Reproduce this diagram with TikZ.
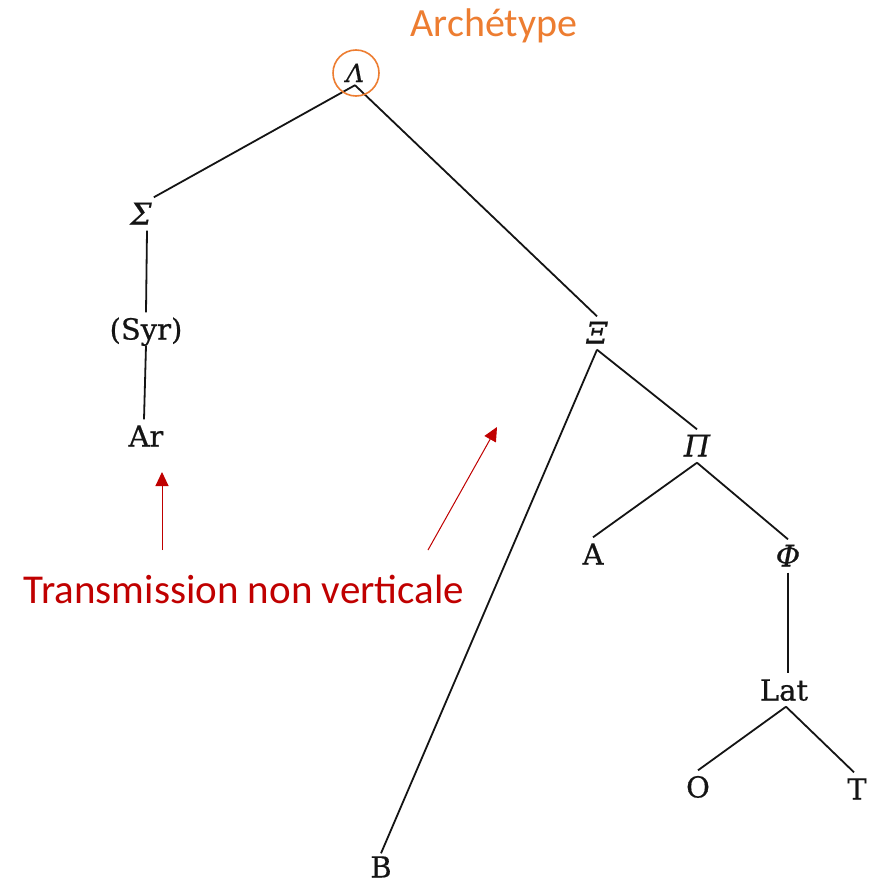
\documentclass[tikz,border=0pt]{standalone}
\usepackage{fontspec}
\newfontfamily\treefont{DejaVu Serif}[FakeBold=0.6]
\newfontfamily\calib{Carlito}
\usetikzlibrary{arrows.meta}
\definecolor{archc}{HTML}{ED7D31}
\definecolor{tnvc}{HTML}{C00000}
\begin{document}
\begin{tikzpicture}[x=1pt,y=1pt,
  lab/.style={font=\treefont\fontsize{29}{29}\selectfont, text height=21pt, text depth=0pt, inner xsep=2pt, inner ysep=6pt, text=black!92},
  gk/.style={lab, font=\treefont\itshape\fontsize{30}{30}\selectfont},
  edge/.style={line width=1.8pt, black!92},
  redarrow/.style={tnvc, line width=1pt, -{Triangle[width=13pt,length=14pt]}},
  note/.style={font=\calib\fontsize{40}{40}\selectfont, anchor=base, inner sep=0pt}]
\useasboundingbox (0,0) rectangle (875,-883);
\fill[white] (0,0) rectangle (875,-883);

% tree nodes
\node[gk, font=\treefont\itshape\fontsize{25}{25}\selectfont, text height=18pt, inner ysep=3pt] (L) at (355,-73) {Λ};
\node[gk] (S) at (141,-214) {Σ};
\node[lab] (Syr) at (146,-329) {(Syr)};
\node[lab] (Ar) at (146,-436) {Ar};
\node[gk] (X) at (597,-333) {Ξ};
\node[gk] (P) at (697,-446) {Π};
\node[lab] (A) at (593,-554) {A};
\node[gk] (F) at (788,-556) {Φ};
\node[lab] (Lat) at (784,-690) {Lat};
\node[lab] (O) at (698,-787) {O};
\node[lab] (T) at (857,-789) {T};
\node[lab, inner ysep=3pt] (B) at (381,-867) {B};

% tree edges
\draw[edge] (L.south) -- (S.north east);
\draw[edge] (L.south) -- (X.north);
\draw[edge] ([xshift=6pt]S.south) -- (Syr.north);
\draw[edge] (Syr.south) -- ([xshift=-2pt]Ar.north);
\draw[edge] (X.south) -- (B.north);
\draw[edge] (X.south) -- (P.north);
\draw[edge] (P.south) -- (A.north);
\draw[edge] (P.south) -- (F.north);
\draw[edge] (F.south) -- (F.south |- Lat.north);
\draw[edge] ([xshift=2pt]Lat.south) -- (O.north);
\draw[edge] ([xshift=2pt]Lat.south) -- ([xshift=-3pt]T.north);

% archetype
\draw[archc, line width=1.6pt] (356,-73) circle[radius=23];
\node[note, text=archc] (arch) at (494,-37) {Archétype};

% annotation
\node[note, text=tnvc, font=\calib\fontsize{41}{41}\selectfont] (tnv) at (244,-603) {Transmission non verticale};
\coordinate (a1s) at (162,-550);
\coordinate (a1e) at (162,-472);
\coordinate (a2s) at (428,-550);
\coordinate (a2e) at (497,-427);
\draw[redarrow] (a1s) -- (a1e);
\draw[redarrow] (a2s) -- (a2e);
\end{tikzpicture}
\end{document}
